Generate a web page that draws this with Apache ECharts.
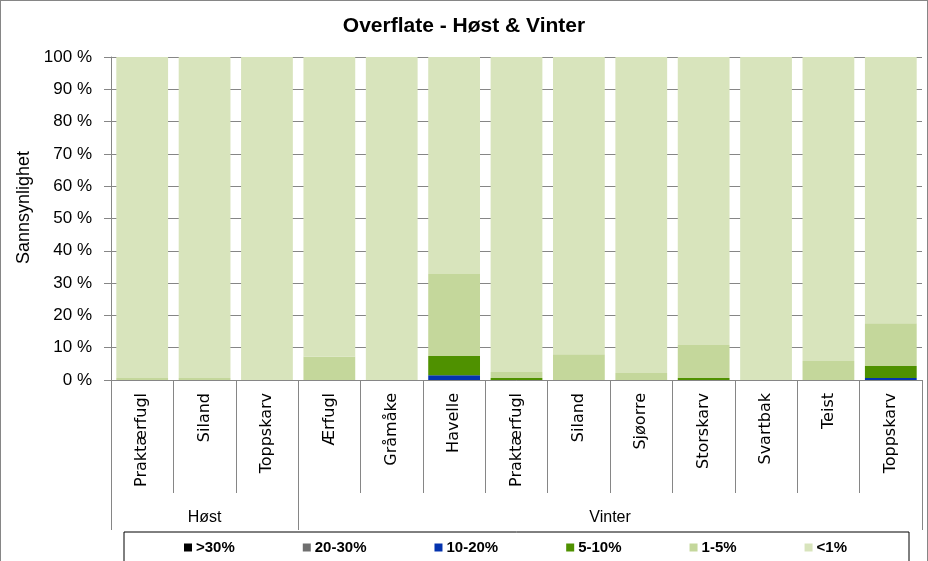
<!DOCTYPE html>
<html>
<head>
<meta charset="utf-8">
<script src="https://cdn.jsdelivr.net/npm/echarts@6/dist/echarts.min.js"></script>
<style>
html,body{margin:0;padding:0;background:#fff;}
#wrap{position:absolute;left:0;top:0;width:928px;height:561px;box-sizing:border-box;border:1px solid #868686;border-bottom:none;}
#chart{position:absolute;left:-1px;top:-1px;width:928px;height:561px;}
</style>
</head>
<body>
<div id="wrap"><div id="chart"></div></div>
<script>
const categories = ['Praktærfugl','Siland','Toppskarv','Ærfugl','Gråmåke','Havelle','Praktærfugl','Siland','Sjøorre','Storskarv','Svartbak','Teist','Toppskarv'];
const groups = ['Høst','Vinter'];
const groupSizes = [3,10];
const seriesNames = ['>30%','20-30%','10-20%','5-10%','1-5%','<1%'];
const over30  = [0,0,0,0,0,0,0,0,0,0,0,0,0];
const v20_30  = [0,0,0,0,0,0,0,0,0,0,0,0,0];
const v10_20  = [0,0,0,0,0,1.5,0,0,0,0,0,0,0.6];
const v5_10   = [0,0,0,0,0,5.9,0.6,0,0,0.6,0,0,3.7];
const v1_5    = [0.6,0.6,0,7.2,0,25.4,1.9,8.0,2.2,10.2,0,5.9,13.3];
const under1  = [99.4,99.4,100,92.8,100,67.2,97.5,92.0,97.8,89.2,100,94.1,82.4];
const yTicks = [0,10,20,30,40,50,60,70,80,90,100];
const colors = ['#000000','#6f6f6f','#0433ae','#4f9100','#c4d79b','#d8e4bc'];
const values = [over30, v20_30, v10_20, v5_10, v1_5, under1];

// group boundaries & centers on a 0..N scale
const bounds = [0]; const centers = [];
groupSizes.forEach((s,i)=>{ centers.push(bounds[i] + s/2); bounds.push(bounds[i]+s); });

const chart = echarts.init(document.getElementById('chart'));
const axisGray = '#868686';
chart.setOption({
  animation:false,
  textStyle:{fontFamily:'Liberation Sans'},
  title:{text:'Overflate - Høst & Vinter',left:'center',top:11,
    textStyle:{fontFamily:'Liberation Sans',fontWeight:'bold',fontSize:21,color:'#000'}},
  legend:{
    data:seriesNames,left:124,top:532,
    itemWidth:8,itemHeight:8,itemGap:68,
    borderColor:'#000',borderWidth:1,borderRadius:0,
    padding:[8,62,12,60],
    icon:'rect',
    textStyle:{fontFamily:'Liberation Sans',fontWeight:'bold',fontSize:15,color:'#000',padding:[0,0,0,-1]}
  },
  grid:{left:111,right:6,top:57,bottom:181,containLabel:false},
  xAxis:[{
    type:'category',data:categories,position:'bottom',
    axisLine:{show:true,lineStyle:{color:axisGray,width:1}},
    axisTick:{show:true,length:113,lineStyle:{color:axisGray}},
    axisLabel:{rotate:90,margin:13,fontFamily:'DejaVu Sans',fontSize:16,color:'#000',interval:0},
    splitLine:{show:false}
  },{
    type:'value',min:0,max:categories.length,position:'bottom',
    axisLine:{show:false},
    splitLine:{show:false},
    axisTick:{show:true,length:150,customValues:bounds,lineStyle:{color:axisGray}},
    axisLabel:{show:true,customValues:centers,margin:130,fontFamily:'Liberation Sans',fontSize:16,color:'#000',
      formatter:function(v){ const i = centers.indexOf(v); return i>=0 ? groups[i] : ''; }}
  }],
  yAxis:{
    type:'value',min:0,max:100,interval:10,
    name:'Sannsynlighet',nameLocation:'middle',nameGap:77,
    nameTextStyle:{fontFamily:'Liberation Sans',fontSize:18,color:'#000',padding:[0,0,0,22]},
    axisLine:{show:true,lineStyle:{color:axisGray}},
    axisTick:{show:true,inside:false,length:7,lineStyle:{color:axisGray}},
    axisLabel:{formatter:function(v){return v+' %';},fontFamily:'Liberation Sans',fontSize:17,color:'#000',margin:19},
    splitLine:{show:true,lineStyle:{color:axisGray,width:1}}
  },
  series: seriesNames.map((n,i)=>({
    name:n,type:'bar',stack:'total',data:values[i],
    barCategoryGap:'17%',
    itemStyle:{color:colors[i]},
    emphasis:{disabled:true}
  }))
});
</script>
</body>
</html>
